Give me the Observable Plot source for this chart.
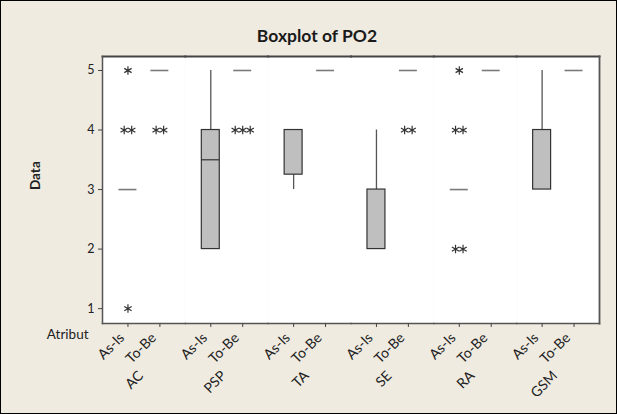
<!DOCTYPE html>
<html>
<head>
<meta charset="utf-8">
<script src="https://cdn.jsdelivr.net/npm/d3@7"></script>
<script src="https://cdn.jsdelivr.net/npm/@observablehq/plot@0.6"></script>
<style>
  html, body { margin: 0; padding: 0; }
  #wrap {
    position: relative; width: 617px; height: 414px; overflow: hidden;
    background: #efebe1; box-shadow: inset 0 0 0 1px #000;
    font-family: Lato, "Open Sans", sans-serif;
  }
  #title {
    box-sizing: border-box; width: 617px; height: 48px; padding-top: 26px; padding-left: 17px;
    line-height: 20px; text-align: center; font-weight: bold; font-size: 17.5px; color: #1a1a1a;
  }
</style>
</head>
<body>
<div id="wrap">
  <div id="title">Boxplot of PO2</div>
  <div id="chart"></div>
</div>
<script>
// Categories
const groups = ["AC", "PSP", "TA", "SE", "RA", "GSM"];
const attrs = ["AC","AC","PSP","PSP","TA","TA","SE","SE","RA","RA","GSM","GSM"];
const atribut = ["As-Is","To-Be","As-Is","To-Be","As-Is","To-Be","As-Is","To-Be","As-Is","To-Be","As-Is","To-Be"];
// Box summary values
const q1          = [3, 5, 2,   5, 3.25, 5, 2, 5, 3, 5, 3, 5];
const median      = [3, 5, 3.5, 5, 4,    5, 2, 5, 3, 5, 3, 5];
const q3          = [3, 5, 4,   5, 4,    5, 3, 5, 3, 5, 4, 5];
const whiskerLow  = [3, 5, 2,   5, 3,    5, 2, 5, 3, 5, 3, 5];
const whiskerHigh = [3, 5, 5,   5, 4,    5, 4, 5, 3, 5, 5, 5];
// Outliers
const outAttr    = ["AC","AC","AC","AC","PSP","SE","RA","RA","RA"];
const outAtribut = ["As-Is","As-Is","As-Is","To-Be","To-Be","To-Be","As-Is","As-Is","As-Is"];
const outValue   = [5, 4, 1, 4, 4, 4, 5, 4, 2];
const outCount   = [1, 2, 1, 2, 3, 2, 1, 2, 2];
const yTicks = [1, 2, 3, 4, 5];

const boxes = attrs.map((a, i) => ({
  attr: a, atribut: atribut[i], q1: q1[i], median: median[i], q3: q3[i],
  lo: whiskerLow[i], hi: whiskerHigh[i]
}));
const realBoxes = boxes.filter(d => d.q3 > d.q1);
const innerMedians = realBoxes.filter(d => d.median > d.q1 && d.median < d.q3);
const flatBoxes = boxes.filter(d => d.q3 === d.q1);

const outRows = outAttr.flatMap((a, i) =>
  d3.range(outCount[i]).map(k => ({
    attr: a, atribut: outAtribut[i], value: outValue[i], off: k - (outCount[i] - 1) / 2
  })));
const offsets = Array.from(new Set(outRows.map(d => d.off)));

const ink = "#222";
const chart = Plot.plot({
  width: 617,
  height: 366,
  marginTop: 8,
  marginBottom: 91,
  marginLeft: 102,
  marginRight: 18,
  style: { background: "transparent", fontFamily: "Lato, 'Open Sans', sans-serif", fontSize: "12px", color: ink },
  fx: { domain: groups, padding: 0, round: false },
  x: { domain: ["As-Is", "To-Be"], paddingInner: 0.4375, paddingOuter: 0.516, round: false },
  y: { domain: [0.75, 5.235] },
  marks: [
    Plot.frame({ fill: "white" }),
    Plot.ruleX(realBoxes, { fx: "attr", x: "atribut", y1: "lo", y2: "q1", stroke: "#555", strokeWidth: 1.3 }),
    Plot.ruleX(realBoxes, { fx: "attr", x: "atribut", y1: "q3", y2: "hi", stroke: "#555", strokeWidth: 1.3 }),
    Plot.barY(realBoxes, { fx: "attr", x: "atribut", y1: "q1", y2: "q3", fill: "#bfbfbf", stroke: "#333", strokeWidth: 1.2 }),
    Plot.tickY(innerMedians, { fx: "attr", x: "atribut", y: "median", stroke: "#333", strokeWidth: 1.2 }),
    Plot.tickY(flatBoxes, { fx: "attr", x: "atribut", y: "median", stroke: "#7a7a7a", strokeWidth: 1.6 }),
    ...offsets.map(o => Plot.dot(outRows.filter(d => d.off === o), {
      fx: "attr", x: "atribut", y: "value", symbol: "asterisk", r: 4, stroke: "#333", strokeWidth: 1.2, dx: o * 7.5
    })),
    Plot.frame({ anchor: "top", stroke: "#444", strokeWidth: 2 }),
    Plot.frame({ anchor: "bottom", stroke: "#555", strokeWidth: 1.5 }),
    Plot.frame({ anchor: "left", facetAnchor: "left", stroke: "#555", strokeWidth: 1.5 }),
    Plot.frame({ anchor: "right", facetAnchor: "right", stroke: "#555", strokeWidth: 1.8 }),
    Plot.axisY({ ticks: yTicks, tickSize: 4, tickPadding: 4, tickFormat: d3.format("d"), label: null, fontSize: 12.5, stroke: "#444" }),
    Plot.axisX({ anchor: "bottom", tickRotate: -45, tickSize: 4, stroke: "#444", label: null, text: null }),
    Plot.axisX({ anchor: "bottom", tickRotate: -45, tickSize: 0, tickPadding: 12, dx: -6, label: null, fontSize: 14 }),
    Plot.axisFx({ anchor: "bottom", tickRotate: -45, tickSize: 0, tickPadding: 50, dx: -3, label: null, fontSize: 14 }),
    Plot.text(["Atribut"], { frameAnchor: "bottom-left", facetAnchor: "left", dx: -14, dy: 15, textAnchor: "end", fontSize: 13.5 }),
    Plot.text(["Data"], { frameAnchor: "left", facetAnchor: "left", dx: -67, rotate: -90, fontWeight: "bold", fontSize: 13.5 })
  ]
});
document.getElementById("chart").appendChild(chart);
</script>
</body>
</html>
